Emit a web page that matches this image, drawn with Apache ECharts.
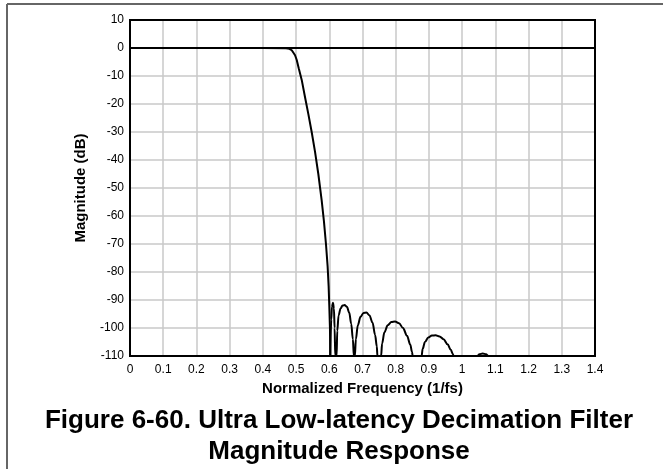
<!DOCTYPE html>
<html>
<head>
<meta charset="utf-8">
<script src="https://cdn.jsdelivr.net/npm/echarts@6/dist/echarts.min.js"></script>
<style>
  html, body { margin: 0; padding: 0; background: #fff; }
  #chart { width: 663px; height: 469px; }
</style>
</head>
<body>
<div id="chart"></div>
<script>
// frequency (1/fs) and magnitude (dB)
const passFreq = [0, 0.1, 0.2, 0.3, 0.4, 0.47, 0.48, 0.487, 0.492, 0.497, 0.502, 0.508, 0.517, 0.527, 0.537, 0.547, 0.557, 0.567, 0.577, 0.584, 0.59, 0.595, 0.598, 0.6, 0.602, 0.603];
const passMag = [0, 0, 0, 0, 0, -0.1, -0.3, -0.8, -1.5, -2.6, -4.3, -7.2, -11.4, -17.6, -23.6, -30, -37, -45, -54.3, -62, -70, -78, -85, -92, -100, -110];

const stopFreq = [
  0.603, 0.604, 0.606, 0.608, 0.611, 0.614, 0.616, 0.618,
  0.622, 0.624, 0.628, 0.634, 0.640, 0.646, 0.653, 0.660, 0.666, 0.671, 0.674,
  0.677, 0.680, 0.686, 0.694, 0.703, 0.712, 0.721, 0.730, 0.738, 0.743, 0.745,
  0.756, 0.759, 0.766, 0.776, 0.787, 0.798, 0.810, 0.822, 0.834, 0.844, 0.849, 0.851,
  0.878, 0.881, 0.888, 0.898, 0.909, 0.920, 0.932, 0.944, 0.956, 0.966, 0.972, 0.974,
  1.046, 1.052, 1.062, 1.072, 1.079, 1.4
];
const stopMag = [
  -110, -110, -97, -92.5, -91, -93, -100, -110,
  -110, -101, -95.5, -93, -92, -91.8, -92.4, -94.5, -98.5, -104, -110,
  -110, -104, -99, -96, -94.6, -94.5, -95.5, -98, -102.5, -106.5, -110,
  -110, -105.5, -101.5, -99, -97.9, -97.7, -98.3, -100, -102.8, -106, -108.5, -110,
  -110, -107.5, -105, -103.4, -102.7, -102.6, -103, -104, -105.8, -107.8, -109.3, -110,
  -110, -109.4, -109.1, -109.4, -110, -110
];

const titleLines = ['Figure 6-60. Ultra Low-latency Decimation Filter', 'Magnitude Response'];

const toPoints = (xs, ys) => xs.map((f, i) => [f, ys[i]]);

const chart = echarts.init(document.getElementById('chart'));

const labelFont = { color: '#000', fontFamily: 'Liberation Sans, Arial, sans-serif', fontSize: 12 };
const nameFont = { color: '#000', fontFamily: 'Liberation Sans, Arial, sans-serif', fontSize: 15, fontWeight: 'bold' };
const curve = { color: '#000', width: 2 };

const option = {
  animation: false,
  grid: { left: 130, top: 20, width: 465, height: 336, show: false },
  xAxis: {
    type: 'value', min: 0, max: 1.4, interval: 0.1,
    name: 'Normalized Frequency (1/fs)', nameLocation: 'middle', nameGap: 20,
    nameTextStyle: nameFont,
    axisLine: { lineStyle: { color: '#000', width: 2 } },
    axisTick: { show: false },
    axisLabel: Object.assign({ margin: 8, formatter: v => String(+v.toFixed(1)) }, labelFont),
    splitLine: { lineStyle: { color: '#c8c8c8', width: 1.5 } }
  },
  yAxis: {
    type: 'value', min: -110, max: 10, interval: 10,
    name: 'Magnitude (dB)', nameLocation: 'middle', nameGap: 42,
    nameTextStyle: nameFont,
    axisLine: { lineStyle: { color: '#000', width: 2 } },
    axisTick: { show: false },
    axisLabel: Object.assign({ margin: 6 }, labelFont),
    splitLine: { lineStyle: { color: '#c8c8c8', width: 1.5 } }
  },
  series: [
    {
      type: 'line',
      data: toPoints(passFreq, passMag),
      showSymbol: false,
      smooth: false,
      clip: true,
      lineStyle: curve
    },
    {
      type: 'line',
      data: toPoints(stopFreq, stopMag),
      showSymbol: false,
      smooth: 0.35,
      smoothMonotone: 'x',
      clip: true,
      lineStyle: curve
    }
  ],
  graphic: [
    { type: 'line', shape: { x1: 7, y1: 4, x2: 663, y2: 4 }, style: { stroke: '#666', lineWidth: 2 } },
    { type: 'line', shape: { x1: 7, y1: 4, x2: 7, y2: 469 }, style: { stroke: '#666', lineWidth: 2 } },
    // plot frame on top of the grid lines
    { type: 'rect', z: 100, shape: { x: 130, y: 20, width: 465, height: 336 }, style: { fill: null, stroke: '#000', lineWidth: 2 } },
    {
      type: 'text', x: 339, y: 405,
      style: {
        text: titleLines.join('\n'),
        textAlign: 'center', textVerticalAlign: 'top',
        font: 'bold 26px "Liberation Sans", Arial, sans-serif',
        lineHeight: 31, fill: '#000'
      }
    }
  ]
};

chart.setOption(option);
</script>
</body>
</html>
